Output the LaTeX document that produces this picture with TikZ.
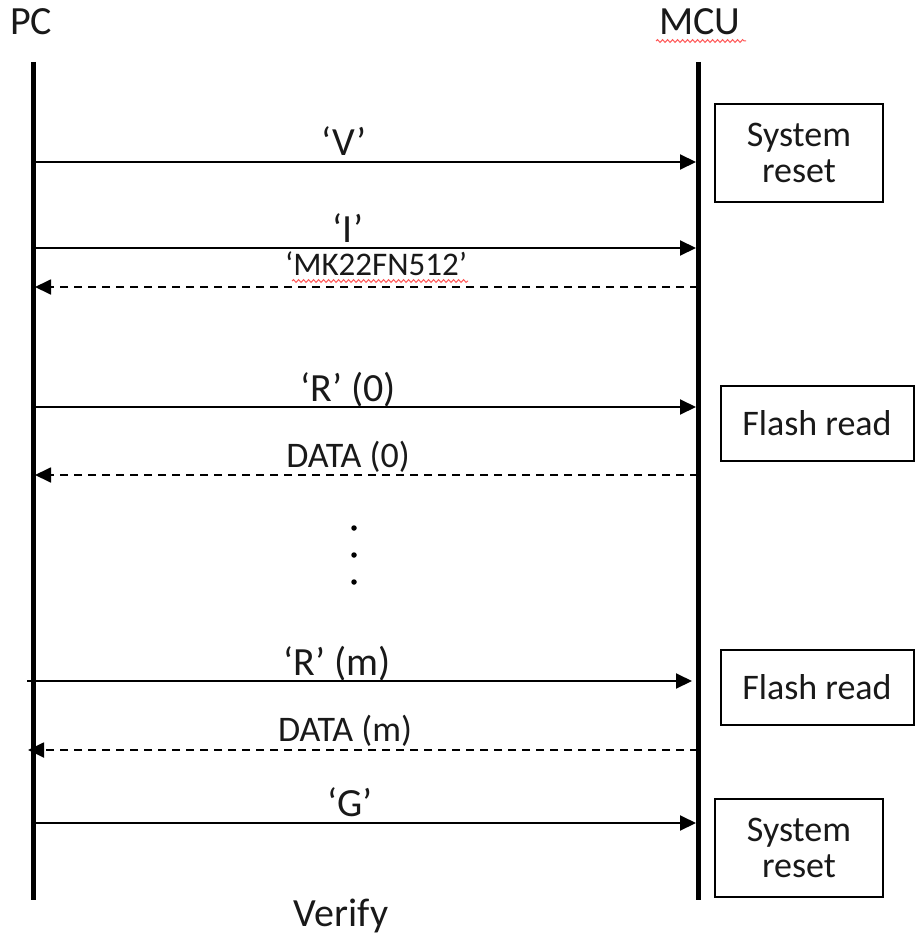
\documentclass[tikz,border=0pt]{standalone}
\usepackage{fontspec}
\setmainfont{Carlito}
\usetikzlibrary{arrows.meta,decorations.pathmorphing}
\begin{document}
\begin{tikzpicture}[x=1pt,y=-1pt,
  every node/.style={font=\fontsize{36}{38}\selectfont, inner sep=0pt, text=black!90},
  life/.style={line width=5pt},
  msg/.style={line width=2pt,-{Triangle[length=16pt,width=15pt]}},
  ret/.style={msg, line width=1.8pt, dash pattern=on 8pt off 6pt},
  lab/.style={anchor=base},
  biglab/.style={anchor=base, font=\fontsize{40}{42}\selectfont},
  midlab/.style={anchor=base, font=\fontsize{36}{38}\selectfont},
  smalllab/.style={anchor=base, font=\fontsize{33}{36}\selectfont},
  procbox/.style={draw, line width=2pt, align=center},
  dotnode/.style={circle, fill=black, minimum size=5.5pt, inner sep=0pt},
  wavy/.style={draw=red!65, line width=1pt, decorate, decoration={snake, amplitude=1.4pt, segment length=5pt}}]
\useasboundingbox (0,0) rectangle (915,936);

% lifelines
\coordinate (pcTop) at (33,62);
\coordinate (pcBot) at (33,900);
\coordinate (mcuTop) at (698,62);
\coordinate (mcuBot) at (698,900);
\draw[life] (pcTop) -- (pcBot);
\draw[life] (mcuTop) -- (mcuBot);

% titles
\node[biglab] (pc) at (31,35) {PC};
\node[biglab] (mcu) at (700,35) {MCU};
\coordinate (mcuW1) at (656,41);
\coordinate (mcuW2) at (746,41);
\draw[wavy] (mcuW1) -- (mcuW2);

% boxes
\node[procbox, minimum width=168pt, minimum height=98pt] (box1) at (799,153) {System\\[-2pt]reset};
\node[procbox, minimum width=193pt, minimum height=75pt] (box2) at (817,423) {Flash read};
\node[procbox, minimum width=193pt, minimum height=75pt] (box3) at (817,687) {Flash read};
\node[procbox, minimum width=168pt, minimum height=98pt] (box4) at (799,848) {System\\[-2pt]reset};

% 'V'
\coordinate (aV1) at (33,162); \coordinate (aV2) at (696,162);
\draw[msg] (aV1) -- (aV2);
\node[biglab] (tV) at (344,156) {‘V’};

% 'I'
\coordinate (aI1) at (33,248); \coordinate (aI2) at (696,248);
\draw[msg] (aI1) -- (aI2);
\node[biglab] (tI) at (348,242) {‘I’};

% 'MK22FN512'
\coordinate (aM1) at (698,287); \coordinate (aM2) at (35,287);
\draw[ret] (aM1) -- (aM2);
\node[smalllab] (tM) at (376,275) {‘MK22FN512’};
\coordinate (mkW1) at (292,281);
\coordinate (mkW2) at (468,281);
\draw[wavy] (mkW1) -- (mkW2);

% 'R' (0)
\coordinate (aR1) at (33,407); \coordinate (aR2) at (696,407);
\draw[msg] (aR1) -- (aR2);
\node[biglab] (tR) at (348,401) {‘R’ (0)};

% DATA (0)
\coordinate (aD1) at (698,475); \coordinate (aD2) at (35,475);
\draw[ret] (aD1) -- (aD2);
\node[midlab] (tD) at (348,467) {DATA (0)};

% dots
\node[dotnode] (d1) at (354,528) {};
\node[dotnode] (d2) at (354,555) {};
\node[dotnode] (d3) at (354,582) {};

% 'R' (m)
\coordinate (aRm1) at (27,681); \coordinate (aRm2) at (692,681);
\draw[msg] (aRm1) -- (aRm2);
\node[biglab] (tRm) at (337,675) {‘R’ (m)};

% DATA (m)
\coordinate (aDm1) at (698,750); \coordinate (aDm2) at (28,750);
\draw[ret] (aDm1) -- (aDm2);
\node[midlab] (tDm) at (345,741) {DATA (m)};

% 'G'
\coordinate (aG1) at (33,823); \coordinate (aG2) at (696,823);
\draw[msg] (aG1) -- (aG2);
\node[biglab] (tG) at (350,816) {‘G’};

% Verify
\node[biglab] (verify) at (341,926) {Verify};
\end{tikzpicture}
\end{document}
